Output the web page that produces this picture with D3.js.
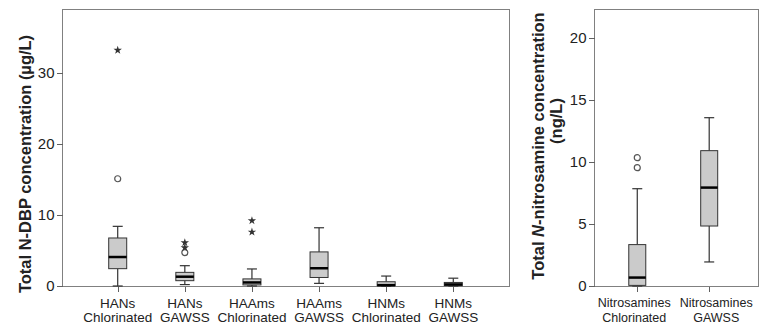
<!DOCTYPE html>
<html lang="en">
<head>
<meta charset="utf-8" />
<title>N-DBP and N-nitrosamine box plots</title>
<style>
  body, html { margin: 0; padding: 0; background: #fff; }
  svg, svg text { font-family: "Liberation Sans", Arial, sans-serif; }
  svg { display: block; }
  .frame { fill: none; stroke: #808080; stroke-width: 1; }
  .axis path, .axis line { stroke: #606060; shape-rendering: crispEdges; }
  .axis text { fill: #222; font-family: "Liberation Sans", Arial, sans-serif; }
  .box { fill: #cbcbcb; stroke: #333; stroke-width: 1; }
  .whisker { stroke: #333; stroke-width: 1.2; }
  .median { stroke: #000; stroke-width: 2.5; }
  .outlier { fill: #fff; stroke: #555; stroke-width: 1.2; }
  .extreme { fill: #333; }
  .ytitle { font-weight: bold; font-size: 16.5px; fill: #222; }
  .cat { fill: #222; }
</style>
<script src="https://d3js.org/d3.v7.min.js"></script>
</head>
<body>
<div id="chart"></div>
<script>
// left panel: N-DBP classes (µg/L)
const dbpCats = ["HANs Chlorinated", "HANs GAWSS", "HAAms Chlorinated", "HAAms GAWSS", "HNMs Chlorinated", "HNMs GAWSS"];
const dbpLow = [0, 0.2, 0, 0.37, 0, 0];
const dbpQ1 = [2.44, 0.75, 0.15, 1.2, 0.05, 0.05];
const dbpMed = [4.08, 1.31, 0.5, 2.5, 0.12, 0.22];
const dbpQ3 = [6.76, 1.92, 1.0, 4.8, 0.6, 0.5];
const dbpHigh = [8.4, 2.86, 2.4, 8.2, 1.4, 1.1];
const dbpOutliers = [[15.1], [4.7], [], [], [], []];
const dbpExtremes = [[33.2], [5.4, 6.1], [7.6, 9.2], [], [], []];
const dbpTicks = [0, 10, 20, 30];

// right panel: nitrosamines (ng/L)
const nitCats = ["Nitrosamines Chlorinated", "Nitrosamines GAWSS"];
const nitLow = [0, 1.94];
const nitQ1 = [0.05, 4.84];
const nitMed = [0.68, 7.94];
const nitQ3 = [3.34, 10.92];
const nitHigh = [7.85, 13.58];
const nitOutliers = [[9.55, 10.35], []];
const nitExtremes = [[], []];
const nitTicks = [0, 5, 10, 15, 20];

const W = 763, H = 325;
const svg = d3.select("#chart").append("svg").attr("width", W).attr("height", H);

function rows(cats, lo, q1, med, q3, hi, outs, ext) {
  return cats.map((c, i) => ({ cat: c, lo: lo[i], q1: q1[i], med: med[i], q3: q3[i], hi: hi[i], outs: outs[i], ext: ext[i] }));
}

function panel(opts) {
  const data = rows(...opts.data);
  const x = d3.scalePoint().domain(data.map(d => d.cat)).range([opts.left, opts.right]).padding(opts.pad).align(opts.align);
  const y = d3.scaleLinear().domain(opts.ydom).range([opts.bottom, opts.top]);
  const g = svg.append("g");

  g.append("rect").attr("class", "frame")
    .attr("x", opts.left + 0.5).attr("y", opts.top + 0.5)
    .attr("width", opts.right - opts.left).attr("height", opts.bottom - opts.top);

  const ya = g.append("g").attr("class", "axis")
    .attr("transform", `translate(${opts.left + 0.5},0)`)
    .call(d3.axisLeft(y).tickValues(opts.ticks).tickSize(6).tickPadding(2).tickSizeOuter(0));
  ya.select(".domain").remove();
  ya.selectAll("text").style("font-size", "15px");

  const xa = g.append("g").attr("class", "axis")
    .attr("transform", `translate(0,${opts.bottom + 0.5})`)
    .call(d3.axisBottom(x).tickSize(5).tickSizeOuter(0).tickFormat(""));
  xa.select(".domain").remove();

  // category labels, two lines
  data.forEach((d, k) => {
    const parts = d.cat.split(" ");
    const cx = x(d.cat) + (opts.catShift ? opts.catShift[k] : 0);
    const t = g.append("text").attr("class", "cat").attr("text-anchor", "middle")
      .style("font-size", opts.catSize + "px");
    parts.forEach((p, i) => {
      t.append("tspan").attr("x", cx).attr("y", opts.catY + i * opts.catGap).text(p);
    });
  });

  const bw = opts.boxW, cw = 10;
  const b = g.selectAll(".bp").data(data).join("g").attr("class", "bp")
    .attr("transform", d => `translate(${x(d.cat)},0)`);

  b.append("line").attr("class", "whisker").attr("x1", 0).attr("x2", 0)
    .attr("y1", d => y(d.hi)).attr("y2", d => y(d.q3));
  b.append("line").attr("class", "whisker").attr("x1", 0).attr("x2", 0)
    .attr("y1", d => y(d.lo)).attr("y2", d => y(d.q1));
  b.append("line").attr("class", "whisker").attr("x1", -cw / 2).attr("x2", cw / 2)
    .attr("y1", d => y(d.hi)).attr("y2", d => y(d.hi));
  b.append("line").attr("class", "whisker").attr("x1", -cw / 2).attr("x2", cw / 2)
    .attr("y1", d => y(d.lo)).attr("y2", d => y(d.lo));
  b.append("rect").attr("class", "box")
    .attr("x", -bw / 2).attr("width", bw)
    .attr("y", d => y(d.q3)).attr("height", d => Math.max(1, y(d.q1) - y(d.q3)));
  b.append("line").attr("class", "median").attr("x1", -bw / 2).attr("x2", bw / 2)
    .attr("y1", d => y(d.med)).attr("y2", d => y(d.med));

  b.selectAll(".outlier").data(d => d.outs).join("circle").attr("class", "outlier")
    .attr("cx", 0).attr("cy", v => y(v)).attr("r", 3);
  b.selectAll(".extreme").data(d => d.ext).join("path").attr("class", "extreme")
    .attr("d", d3.symbol(d3.symbolStar, 22))
    .attr("transform", v => `translate(0,${y(v)})`);
  return g;
}

panel({
  data: [dbpCats, dbpLow, dbpQ1, dbpMed, dbpQ3, dbpHigh, dbpOutliers, dbpExtremes],
  left: 62, right: 509, top: 9, bottom: 286, ydom: [0, 39], ticks: dbpTicks,
  pad: 0.83, align: 0.5, boxW: 18, catSize: 13.5, catY: 308, catGap: 14
});

panel({
  data: [nitCats, nitLow, nitQ1, nitMed, nitQ3, nitHigh, nitOutliers, nitExtremes],
  left: 594, right: 758, top: 9, bottom: 286, ydom: [0, 22.35], ticks: nitTicks,
  pad: 0.64, align: 0.47, boxW: 17, catSize: 12.5, catY: 307, catGap: 14.5,
  catShift: [-3, 7]
});

// y titles
svg.append("text").attr("class", "ytitle").attr("text-anchor", "middle")
  .attr("transform", "translate(25,164) rotate(-90)").attr("dy", "0.35em")
  .text("Total N-DBP concentration (\u00b5g/L)");

const t2 = svg.append("text").attr("class", "ytitle").attr("text-anchor", "middle")
  .attr("transform", "translate(538,146) rotate(-90)").attr("dy", "0.35em");
t2.append("tspan").text("Total ");
t2.append("tspan").style("font-style", "italic").text("N");
t2.append("tspan").text("-nitrosamine concentration");
svg.append("text").attr("class", "ytitle").attr("text-anchor", "middle")
  .attr("transform", "translate(556,121) rotate(-90)").attr("dy", "0.35em")
  .text("(ng/L)");
</script>
</body>
</html>
